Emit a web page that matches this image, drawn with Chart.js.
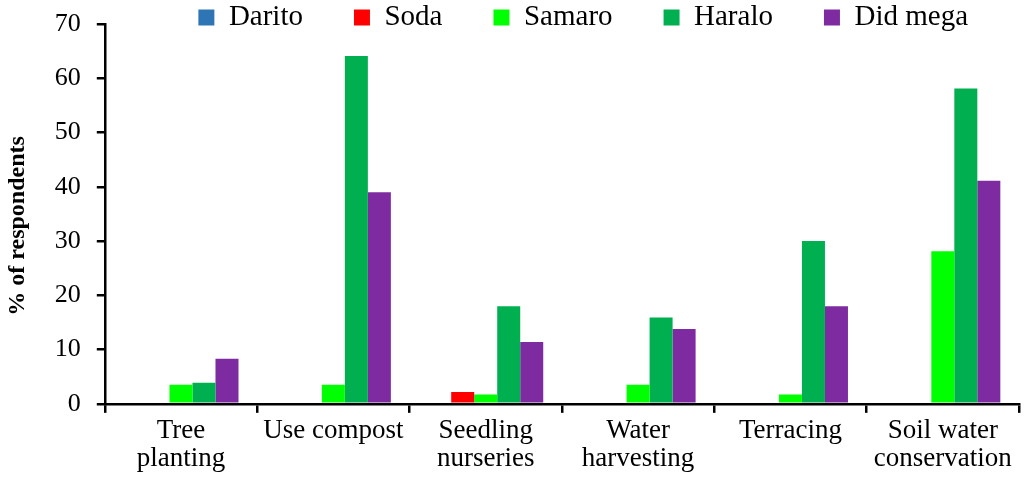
<!DOCTYPE html>
<html>
<head>
<meta charset="utf-8">
<script src="https://cdn.jsdelivr.net/npm/chart.js@4"></script>
<style>
  html, body { margin: 0; padding: 0; background: #fff; }
  #wrap { width: 1024px; height: 477px; }
</style>
</head>
<body>
<div id="wrap"><canvas id="practicesChart"></canvas></div>
<script>
const categories = [
  ['Tree', 'planting'],
  'Use compost',
  ['Seedling', 'nurseries'],
  ['Water', 'harvesting'],
  'Terracing',
  ['Soil water', 'conservation']
];

const darito  = [0, 0, 0, 0, 0, 0];
const soda    = [0, 0, 2.2, 0, 0, 0];
const samaro  = [3.5, 3.5, 1.7, 3.5, 1.7, 28.1];
const haralo  = [3.9, 64.1, 18, 15.9, 30, 58.1];
const didMega = [8.3, 39, 11.4, 13.8, 18, 41.1];

const yTicks = [0, 10, 20, 30, 40, 50, 60, 70];

const serif = 'Liberation Serif';

// legend keeps its wide label spacing but is allowed to draw past its capped box
const unclipLegend = {
  id: 'unclipLegend',
  afterLayout(chart) {
    if (chart.legend) chart.legend.bottom = chart.legend.top + 160;
  }
};

const ctx = document.getElementById('practicesChart').getContext('2d');
new Chart(ctx, {
  type: 'bar',
  data: {
    labels: categories,
    datasets: [
      { label: 'Darito',   data: darito,  backgroundColor: '#2E75B6' },
      { label: 'Soda',     data: soda,    backgroundColor: '#FF0000' },
      { label: 'Samaro',   data: samaro,  backgroundColor: '#00FF00' },
      { label: 'Haralo',   data: haralo,  backgroundColor: '#00B050' },
      { label: 'Did mega', data: didMega, backgroundColor: '#7E2BA1' }
    ]
  },
  plugins: [unclipLegend],
  options: {
    responsive: true,
    maintainAspectRatio: false,
    animation: false,
    datasets: {
      bar: { categoryPercentage: 0.755, barPercentage: 1.0, borderWidth: 0 }
    },
    layout: { padding: { top: -48, right: 5, left: 0, bottom: 0 } },
    plugins: {
      tooltip: { enabled: false },
      legend: {
        position: 'top',
        align: 'end',
        maxHeight: 72,
        labels: {
          color: '#000',
          boxWidth: 16,
          boxHeight: 16,
          padding: 51,
          font: { family: serif, size: 29 }
        }
      }
    },
    scales: {
      x: {
        offset: true,
        grid: {
          offset: true,
          drawOnChartArea: false,
          drawTicks: true,
          tickLength: 9,
          color: '#000',
          lineWidth: 2.5
        },
        border: { display: true, color: '#000', width: 2.5 },
        ticks: {
          color: '#000',
          padding: 4,
          maxRotation: 0,
          autoSkip: false,
          font: { family: serif, size: 27, lineHeight: 1.04 }
        }
      },
      y: {
        min: 0,
        max: 70,
        afterBuildTicks: scale => { scale.ticks = yTicks.map(v => ({ value: v })); },
        grid: {
          drawOnChartArea: false,
          drawTicks: true,
          tickLength: 8,
          color: '#000',
          lineWidth: 2.5
        },
        border: { display: true, color: '#000', width: 2.5 },
        ticks: {
          color: '#000',
          padding: 16,
          font: { family: serif, size: 26, lineHeight: 0.6 }
        },
        title: {
          display: true,
          text: '% of respondents    ',
          color: '#000',
          padding: { top: 3, bottom: 7 },
          font: { family: serif, size: 24, weight: 'bold' }
        }
      }
    }
  }
});
</script>
</body>
</html>
